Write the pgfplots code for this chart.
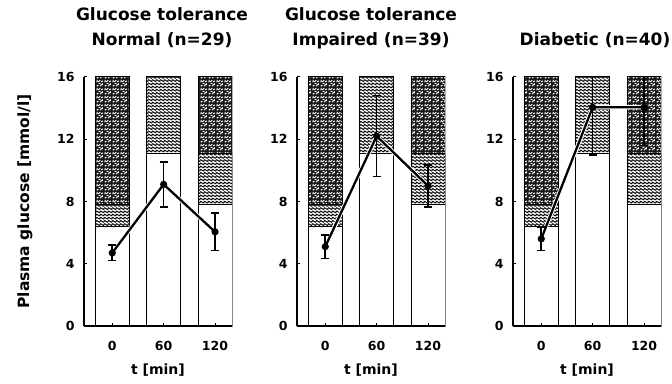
\documentclass[border=0pt]{standalone}
\usepackage{pgfplots}
\pgfplotsset{compat=1.18}
\usepackage{fontspec}
\setmainfont{DejaVu Sans}
\usetikzlibrary{patterns}

\pgfdeclarepatternformonly{wavy}{\pgfqpoint{-0.5pt}{0pt}}{\pgfqpoint{4.5pt}{3.2pt}}{\pgfqpoint{4pt}{3.2pt}}{%
  \pgfsetlinewidth{0.9pt}%
  \pgfpathmoveto{\pgfqpoint{-0.5pt}{1.6pt}}%
  \pgfpathcurveto{\pgfqpoint{0.5pt}{2.7pt}}{\pgfqpoint{1pt}{2.7pt}}{\pgfqpoint{2pt}{1.6pt}}%
  \pgfpathcurveto{\pgfqpoint{3pt}{0.5pt}}{\pgfqpoint{3.5pt}{0.5pt}}{\pgfqpoint{4.5pt}{1.6pt}}%
  \pgfusepath{stroke}}

\pgfdeclarepatternformonly{stipple}{\pgfqpoint{0pt}{0pt}}{\pgfqpoint{8pt}{8pt}}{\pgfqpoint{8pt}{8pt}}{%
  \pgfsetlinewidth{1.1pt}%
  \pgfsetroundcap
  \pgfpathmoveto{\pgfqpoint{1pt}{1pt}}\pgfpathlineto{\pgfqpoint{2.5pt}{2pt}}%
  \pgfpathmoveto{\pgfqpoint{5pt}{1.2pt}}\pgfpathlineto{\pgfqpoint{6pt}{3pt}}%
  \pgfpathmoveto{\pgfqpoint{3pt}{4.5pt}}\pgfpathlineto{\pgfqpoint{4.6pt}{3.9pt}}%
  \pgfpathmoveto{\pgfqpoint{1pt}{5.8pt}}\pgfpathlineto{\pgfqpoint{1.6pt}{7.4pt}}%
  \pgfpathmoveto{\pgfqpoint{6pt}{6pt}}\pgfpathlineto{\pgfqpoint{7.5pt}{6.6pt}}%
  \pgfpathmoveto{\pgfqpoint{4pt}{7pt}}\pgfpathlineto{\pgfqpoint{4.6pt}{7.3pt}}%
  \pgfpathmoveto{\pgfqpoint{7pt}{2.3pt}}\pgfpathlineto{\pgfqpoint{7.4pt}{3.8pt}}%
  \pgfpathmoveto{\pgfqpoint{2.6pt}{6.4pt}}\pgfpathlineto{\pgfqpoint{3.2pt}{6.2pt}}%
  \pgfusepath{stroke}}

\pgfplotsset{
  panel/.style={
    scale only axis, width=148pt, height=249pt,
    anchor=south west,
    xmin=-0.55, xmax=2.33, ymin=0, ymax=16,
    axis x line*=bottom, axis y line*=left,
    axis line style={line width=1.4pt,-},
    axis on top,
    xtick={0,1,2}, xticklabels={0,60,120},
    ytick={0,4,8,12,16},
    ytick align=inside, xtick align=inside,
    major tick length=3pt,
    tick style={line width=1pt,black},
    /pgf/number format/assume math mode=true,
    tick label style={font=\bfseries\fontsize{12.5}{14}\selectfont},
    xticklabel style={yshift=-12pt},
    yticklabel style={xshift=-6pt},
    xlabel={t [min]},
    every axis x label/.style={at={(axis description cs:0.5,0)}, anchor=center, yshift=-44pt,
      font=\bfseries\fontsize{14}{16}\selectfont},
    title style={at={(axis description cs:0.5,1)}, anchor=south, yshift=18pt, align=center,
      font=\bfseries\fontsize{17}{25}\selectfont},
    clip=true,
  },
  dotbar/.style={ybar, bar width=0.66, bar shift=0pt, draw=black, line width=1pt,
    fill=black!90, postaction={pattern=stipple, pattern color=white}},
  wavebar/.style={ybar, bar width=0.66, bar shift=0pt, draw=black, line width=1pt,
    fill=white, postaction={pattern=wavy, pattern color=black}},
  whitebar/.style={ybar, bar width=0.66, bar shift=0pt, draw=black, line width=1pt, fill=white},
  meanline/.style={black, line width=2.3pt, mark=*, mark size=2.4pt,
    preaction={draw=white, line width=4.2pt},
    error bars/.cd, y dir=both, y explicit,
    error bar style={line width=1.6pt, black, preaction={draw=white, line width=3.6pt}},
    error mark options={rotate=90, mark size=4pt, line width=1.6pt, black}},
}

\begin{document}
\begin{tikzpicture}
\useasboundingbox (0,0) rectangle (672pt,383pt);

% Panel 1: Normal
\begin{axis}[panel, at={(84pt,57pt)},
  title={Glucose tolerance\\Normal (n=29)\vphantom{p}}, title style={xshift=4pt},
  ylabel={Plasma glucose [mmol/l]},
  every axis y label/.style={at={(axis description cs:0,0.5)}, xshift=-59pt, rotate=90, anchor=center,
    font=\bfseries\fontsize{15.5}{18}\selectfont}]
\addplot[dotbar] coordinates {(0,16) (2,16)};
\addplot[wavebar] coordinates {(0,7.8) (1,16) (2,11.1)};
\addplot[whitebar] coordinates {(0,6.4) (1,11.1) (2,7.8)};
\addplot[meanline] coordinates {(0,4.7) +- (0,0.5) (1,9.1) +- (0,1.45) (2,6.05) +- (0,1.2)};
\end{axis}

% Panel 2: Impaired
\begin{axis}[panel, at={(297pt,57pt)},
  title={Glucose tolerance\\Impaired (n=39)\vphantom{p}}]
\addplot[dotbar] coordinates {(0,16) (2,16)};
\addplot[wavebar] coordinates {(0,7.8) (1,16) (2,11.1)};
\addplot[whitebar] coordinates {(0,6.4) (1,11.1) (2,7.8)};
\addplot[meanline] coordinates {(0,5.1) +- (0,0.75) (1,12.2) +- (0,2.6) (2,9.0) +- (0,1.35)};
\end{axis}

% Panel 3: Diabetic
\begin{axis}[panel, at={(513pt,57pt)},
  title={Diabetic (n=40)\vphantom{p}}, title style={xshift=8pt}]
\addplot[dotbar] coordinates {(0,16) (2,16)};
\addplot[wavebar] coordinates {(0,7.8) (1,16) (2,11.1)};
\addplot[whitebar] coordinates {(0,6.4) (1,11.1) (2,7.8)};
\addplot[meanline] coordinates {(0,5.6) +- (0,0.75) (1,14.05) +- (0,3.05) (2,14.05) +- (0,2.45)};
\end{axis}
\end{tikzpicture}
\end{document}
